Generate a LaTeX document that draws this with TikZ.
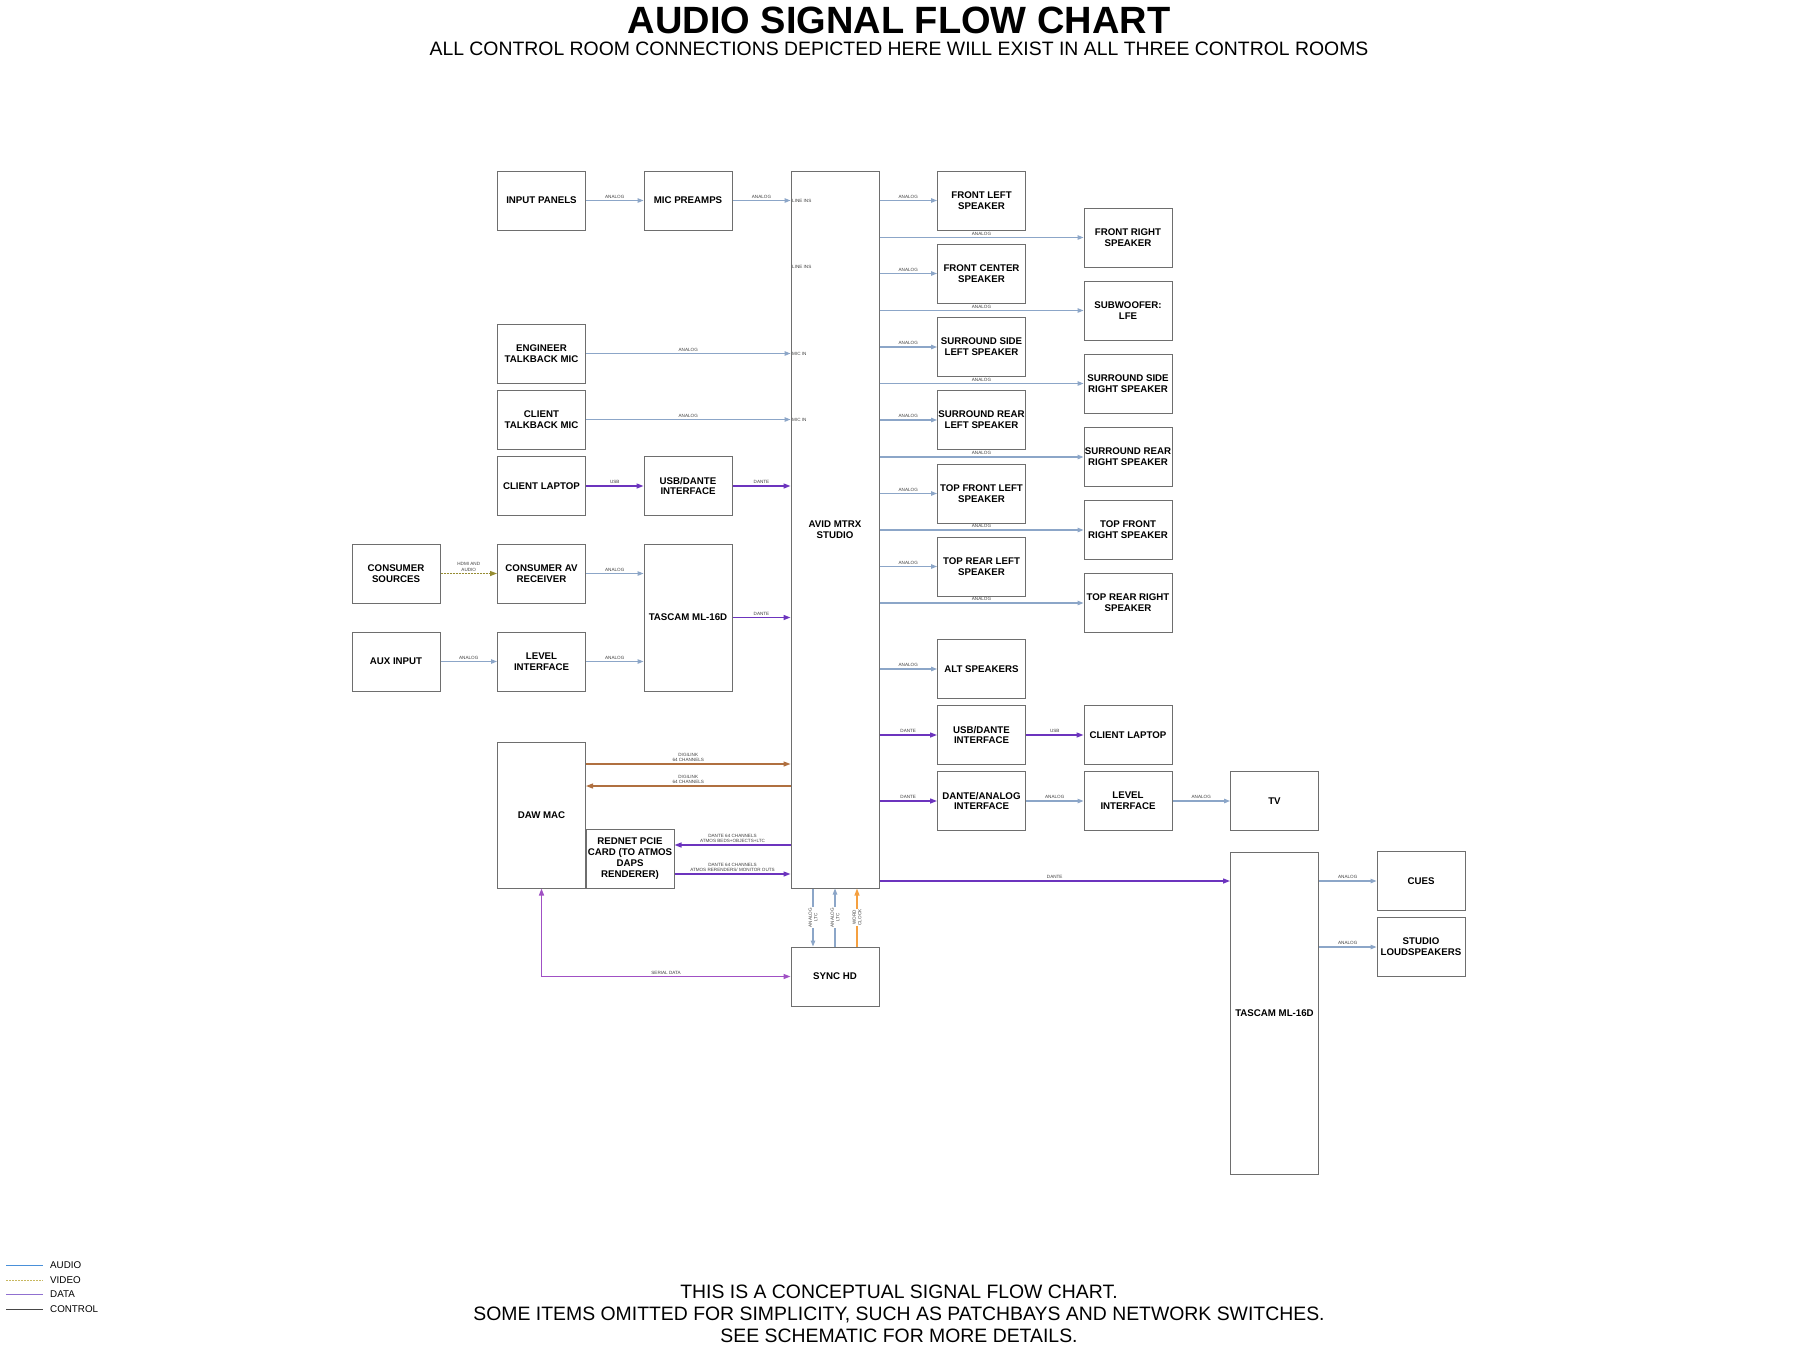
\documentclass[tikz,border=0pt]{standalone}
\usepackage{fontspec}
\setmainfont{Liberation Sans}
\usetikzlibrary{arrows.meta,calc}
\definecolor{audioC}{RGB}{140,166,200}
\definecolor{dataC}{RGB}{108,52,190}
\definecolor{serialC}{RGB}{160,80,196}
\definecolor{digiC}{RGB}{176,112,64}
\definecolor{clockC}{RGB}{245,160,64}
\definecolor{videoC}{RGB}{150,140,50}
\definecolor{boxC}{RGB}{110,110,110}
\definecolor{legAudio}{RGB}{74,144,217}
\definecolor{legVideo}{RGB}{200,184,96}
\definecolor{legData}{RGB}{144,112,208}
\definecolor{legCtrl}{RGB}{70,70,70}
\begin{document}
\begin{tikzpicture}[x=1pt,y=-1pt,
  box/.style={draw=boxC,line width=1pt,fill=white,minimum width=88pt,minimum height=59pt,inner sep=0pt,align=center,font=\bfseries\fontsize{9.7}{10.8}\selectfont,text=black},
  aud/.style={draw=audioC,line width=1.1pt,-{Triangle[length=6pt,width=4.5pt]}},
  dat/.style={draw=dataC,line width=1.3pt,-{Triangle[length=7pt,width=5pt]}},
  digi/.style={draw=digiC,line width=1.2pt,-{Triangle[length=7pt,width=5pt]}},
  clk/.style={draw=clockC,line width=1.2pt,-{Triangle[length=7pt,width=5pt]}},
  vid/.style={draw=videoC,line width=1.2pt,dash pattern=on 2pt off 1pt,-{Triangle[length=7pt,width=5pt]}},
  ser/.style={draw=serialC,line width=1.3pt,{Triangle[length=7pt,width=5pt]}-{Triangle[length=7pt,width=5pt]}},
  lbl/.style={font=\fontsize{4.6}{5.4}\selectfont,text=black!75,inner sep=0.5pt,align=center},
  vlbl/.style={font=\fontsize{4.6}{5.4}\selectfont,text=black!75,inner sep=0.8pt,align=center,fill=white,rotate=90},
  inlbl/.style={font=\fontsize{4.6}{5.4}\selectfont,text=black!75,inner sep=0pt,anchor=west},
  legtxt/.style={font=\fontsize{9.8}{11}\selectfont,anchor=west,inner sep=0pt},
]
\useasboundingbox[fill=white] (0,0) rectangle (1800,1345);

% titles
\node[font=\bfseries\fontsize{38}{39}\selectfont,inner sep=0pt] (title) at (899,20.5) {AUDIO SIGNAL FLOW CHART};
\node[font=\fontsize{19.4}{22}\selectfont,inner sep=0pt] (subtitle) at (899,48.5) {ALL CONTROL ROOM CONNECTIONS DEPICTED HERE WILL EXIST IN ALL THREE CONTROL ROOMS};

% left side
\node[box] (inp) at (541.5,200.5) {INPUT PANELS};
\node[box] (mic) at (688,200.5) {MIC PREAMPS};
\node[box] (eng) at (541.5,353.5) {ENGINEER\\TALKBACK MIC};
\node[box] (ctb) at (541.5,419.5) {CLIENT\\TALKBACK MIC};
\node[box] (lapL) at (541.5,486) {CLIENT LAPTOP};
\node[box] (usbL) at (688,486) {USB/DANTE\\INTERFACE};
\node[box] (cons) at (396,573.5) {CONSUMER\\SOURCES};
\node[box] (cav) at (541.5,573.5) {CONSUMER AV\\RECEIVER};
\node[box] (aux) at (396,661.5) {AUX INPUT};
\node[box] (lvlL) at (541.5,661.5) {LEVEL\\INTERFACE};
\node[box,minimum height=147pt] (tascL) at (688,617.5) {TASCAM ML-16D};
\node[box,minimum height=146pt] (daw) at (541.5,815) {DAW MAC};
\node[box] (rednet) at (630,858.5) {REDNET PCIE\\CARD (TO ATMOS\\DAPS\\RENDERER)};

% center
\node[box,minimum height=717pt] (avid) at (835,529.5) {AVID MTRX\\STUDIO};
\node[box] (sync) at (835,976.5) {SYNC HD};

% right side
\node[box] (fl) at (981.5,200.5) {FRONT LEFT\\SPEAKER};
\node[box] (fr) at (1128,237.5) {FRONT RIGHT\\SPEAKER};
\node[box] (fc) at (981.5,273.5) {FRONT CENTER\\SPEAKER};
\node[box] (sub) at (1128,310.5) {SUBWOOFER:\\LFE};
\node[box] (ssl) at (981.5,347) {SURROUND SIDE\\LEFT SPEAKER};
\node[box] (ssr) at (1128,383.5) {SURROUND SIDE\\RIGHT SPEAKER};
\node[box] (srl) at (981.5,420) {SURROUND REAR\\LEFT SPEAKER};
\node[box] (srr) at (1128,457) {SURROUND REAR\\RIGHT SPEAKER};
\node[box] (tfl) at (981.5,493.5) {TOP FRONT LEFT\\SPEAKER};
\node[box] (tfr) at (1128,530) {TOP FRONT\\RIGHT SPEAKER};
\node[box] (trl) at (981.5,566.5) {TOP REAR LEFT\\SPEAKER};
\node[box] (trr) at (1128,603) {TOP REAR RIGHT\\SPEAKER};
\node[box] (alt) at (981.5,669) {ALT SPEAKERS};
\node[box] (usbR) at (981.5,735) {USB/DANTE\\INTERFACE};
\node[box] (lapR) at (1128,735) {CLIENT LAPTOP};
\node[box] (dan) at (981.5,801) {DANTE/ANALOG\\INTERFACE};
\node[box] (lvlR) at (1128,801) {LEVEL\\INTERFACE};
\node[box] (tv) at (1274.5,801) {TV};
\node[box,minimum height=322pt] (tascR) at (1274.5,1013) {TASCAM ML-16D};
\node[box] (cues) at (1421,881) {CUES};
\node[box] (stud) at (1421,947) {STUDIO\\LOUDSPEAKERS};

% labels inside AVID
\node[inlbl] (li1) at (792,200.5) {LINE INS};
\node[inlbl] (li2) at (792,267) {LINE INS};
\node[inlbl] (mi1) at (792,353.5) {MIC IN};
\node[inlbl] (mi2) at (792,419.5) {MIC IN};

% left connectors
\draw[aud] (inp.east) -- node[lbl,above=1pt]{ANALOG} (mic.west);
\draw[aud] (mic.east) -- node[lbl,above=1pt]{ANALOG} (mic.east -| avid.west);
\draw[aud] (eng.east) -- node[lbl,above=1pt]{ANALOG} (eng.east -| avid.west);
\draw[aud] (ctb.east) -- node[lbl,above=1pt]{ANALOG} (ctb.east -| avid.west);
\draw[dat] (lapL.east) -- node[lbl,above=1pt]{USB} (usbL.west);
\draw[dat] (usbL.east) -- node[lbl,above=1pt]{DANTE} (usbL.east -| avid.west);
\draw[vid] (cons.east) -- node[lbl,above=1pt]{HDMI AND\\AUDIO} (cav.west);
\draw[aud] (cav.east) -- node[lbl,above=1pt]{ANALOG} (cav.east -| tascL.west);
\draw[aud] (aux.east) -- node[lbl,above=1pt]{ANALOG} (lvlL.west);
\draw[aud] (lvlL.east) -- node[lbl,above=1pt]{ANALOG} (lvlL.east -| tascL.west);
\draw[dat] (tascL.east) -- node[lbl,above=1pt]{DANTE} (tascL.east -| avid.west);
\draw[digi] (daw.east |- 0,764) -- node[lbl,above=1pt]{DIGILINK\\64 CHANNELS} (avid.west |- 0,764);
\draw[digi] (avid.west |- 0,786) -- node[lbl,above=1pt]{DIGILINK\\64 CHANNELS} (daw.east |- 0,786);
\draw[dat] (avid.west |- 0,845) -- node[lbl,above=1pt]{DANTE 64 CHANNELS\\ATMOS BEDS+OBJECTS+LTC} (rednet.east |- 0,845);
\draw[dat] (rednet.east |- 0,874) -- node[lbl,above=1pt]{DANTE 64 CHANNELS\\ATMOS RERENDERS/ MONITOR OUTS} (avid.west |- 0,874);

% sync connectors
\draw[aud] (avid.south -| 813,0) -- node[vlbl]{ANALOG\\LTC} (sync.north -| 813,0);
\draw[aud] (sync.north -| 835,0) -- node[vlbl]{ANALOG\\LTC} (avid.south -| 835,0);
\draw[clk] (sync.north -| 857,0) -- node[vlbl]{WORD\\CLOCK} (avid.south -| 857,0);
\draw[ser] (daw.south) |- node[lbl,above=1pt,pos=0.75]{SERIAL DATA} (sync.west);

% right connectors
\foreach \t in {fl,fr,fc,sub,ssl,ssr,srl,srr,tfl,tfr,trl,trr,alt}{
  \draw[aud] (avid.east |- \t.west) -- node[lbl,above=1pt]{ANALOG} (\t.west);
}
\draw[dat] (avid.east |- usbR.west) -- node[lbl,above=1pt]{DANTE} (usbR.west);
\draw[dat] (usbR.east) -- node[lbl,above=1pt]{USB} (lapR.west);
\draw[dat] (avid.east |- dan.west) -- node[lbl,above=1pt]{DANTE} (dan.west);
\draw[aud] (dan.east) -- node[lbl,above=1pt]{ANALOG} (lvlR.west);
\draw[aud] (lvlR.east) -- node[lbl,above=1pt]{ANALOG} (tv.west);
\draw[dat] (avid.east |- 0,881) -- node[lbl,above=1pt]{DANTE} (tascR.west |- 0,881);
\draw[aud] (tascR.east |- cues.west) -- node[lbl,above=1pt]{ANALOG} (cues.west);
\draw[aud] (tascR.east |- stud.west) -- node[lbl,above=1pt]{ANALOG} (stud.west);

% legend
\draw[legAudio,line width=1pt] (6,1265) -- (43,1265);
\draw[legVideo,line width=1pt,dash pattern=on 2pt off 1pt] (6,1280) -- (43,1280);
\draw[legData,line width=1pt] (6,1294.5) -- (43,1294.5);
\draw[legCtrl,line width=1pt] (6,1309.5) -- (43,1309.5);
\node[legtxt] (lg1) at (50,1265) {AUDIO};
\node[legtxt] (lg2) at (50,1280) {VIDEO};
\node[legtxt] (lg3) at (50,1294.5) {DATA};
\node[legtxt] (lg4) at (50,1309.5) {CONTROL};

% notes
\node[font=\fontsize{19.4}{22}\selectfont,inner sep=0pt,anchor=base] (note1) at (899,1298) {THIS IS A CONCEPTUAL SIGNAL FLOW CHART.};
\node[font=\fontsize{19.4}{22}\selectfont,inner sep=0pt,anchor=base] (note2) at (899,1320) {SOME ITEMS OMITTED FOR SIMPLICITY, SUCH AS PATCHBAYS AND NETWORK SWITCHES.};
\node[font=\fontsize{19.4}{22}\selectfont,inner sep=0pt,anchor=base] (note3) at (899,1342) {SEE SCHEMATIC FOR MORE DETAILS.};
\end{tikzpicture}
\end{document}
